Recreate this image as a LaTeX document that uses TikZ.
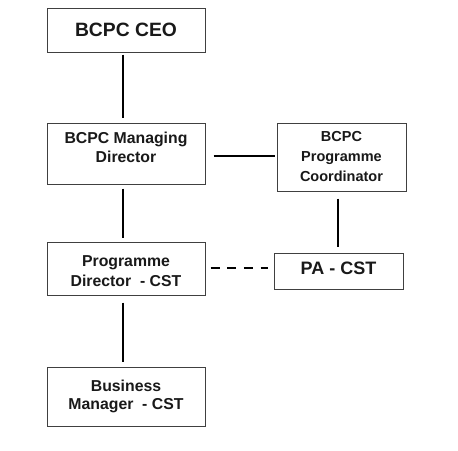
\documentclass[tikz,border=0pt]{standalone}
\usepackage{fontspec}
\setmainfont{Liberation Sans}
% invisible struts that move a label inside its box
\newcommand{\lowpad}[1]{\rule[-#1]{0pt}{0pt}}
\newcommand{\highpad}[1]{\rule{0pt}{#1}}
\begin{document}
\begin{tikzpicture}[x=1pt,y=-1pt,
  orgbox/.style={draw=black!75, line width=1pt, fill=white, align=center,
    inner sep=0pt, text=black!90, font=\bfseries},
  link/.style={draw=black, line width=2.2pt},
  thinlink/.style={draw=black, line width=1.3pt},
  dashlink/.style={draw=black, line width=2pt, dash pattern=on 9pt off 7.7pt}]
\useasboundingbox[fill=white] (0,0) rectangle (458,450);

% boxes of the chart
\node[orgbox, minimum width=158pt, minimum height=44pt,
  font=\fontsize{19.3}{22}\selectfont\bfseries] (ceo) at (126,30) {BCPC CEO};
\node[orgbox, minimum width=158pt, minimum height=61pt,
  font=\fontsize{15.8}{19}\selectfont\bfseries] (md) at (126,153.5)
  {BCPC Managing\\Director\lowpad{12.5pt}};
\node[orgbox, minimum width=129pt, minimum height=68pt,
  font=\fontsize{14.5}{20}\selectfont\bfseries] (coord) at (341.5,157)
  {BCPC\\Programme\\Coordinator};
\node[orgbox, minimum width=158pt, minimum height=53pt,
  font=\fontsize{15.8}{20}\selectfont\bfseries] (pd) at (126,268.5)
  {\highpad{16.6pt}Programme\\Director\ \ - CST};
\node[orgbox, minimum width=129pt, minimum height=36pt,
  font=\fontsize{18}{22}\selectfont\bfseries] (pa) at (338.5,271)
  {PA - CST\lowpad{5.4pt}};
\node[orgbox, minimum width=158pt, minimum height=59pt,
  font=\fontsize{15.8}{17.5}\selectfont\bfseries] (bm) at (126,396.5)
  {Business\\Manager\ \ - CST};

% reporting lines
\draw[link, shorten <=2pt, shorten >=5pt]
  ([xshift=-2.7pt]ceo.south) -- ([xshift=-2.7pt]md.north);
\draw[link, shorten <=4pt, shorten >=4pt]
  ([xshift=-2.7pt]md.south) -- ([xshift=-2.7pt]pd.north);
\draw[link, shorten <=7pt, shorten >=5pt]
  ([xshift=-2.7pt]pd.south) -- ([xshift=-2.7pt]bm.north);
\draw[link, shorten <=7pt, shorten >=6pt]
  ([xshift=-0.5pt]pa.north |- coord.south) -- ([xshift=-0.5pt]pa.north);
\draw[thinlink, shorten <=8pt, shorten >=2pt]
  ([yshift=-2.5pt]md.east) -- ([yshift=-2.5pt]md.east -| coord.west);
\draw[dashlink, shorten <=5pt, shorten >=6pt]
  ([yshift=1pt]pd.east) -- ([yshift=1pt]pd.east -| pa.west);
\end{tikzpicture}
\end{document}
